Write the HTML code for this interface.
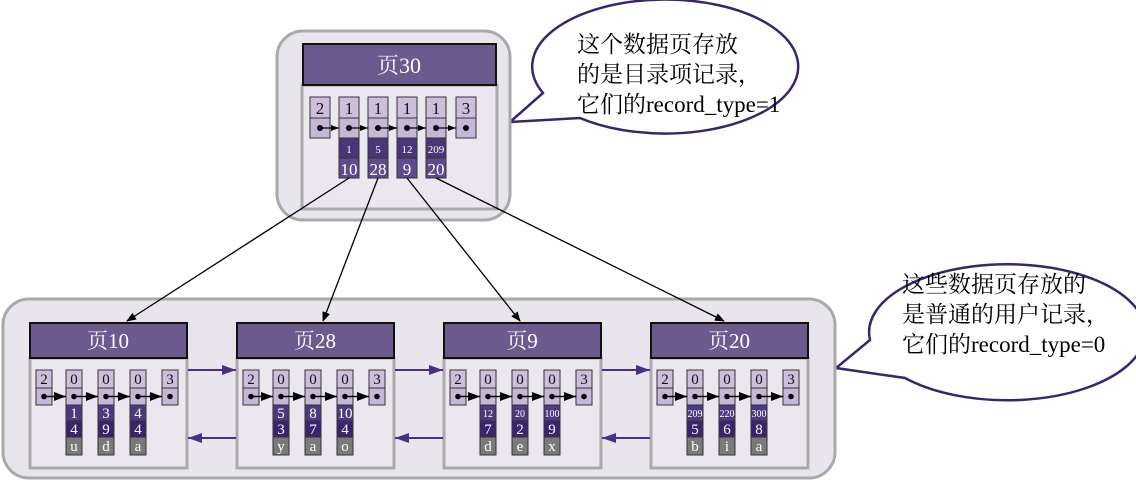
<!DOCTYPE html>
<html><head><meta charset="utf-8"><style>
html,body{margin:0;padding:0;background:#fff;}
svg{display:block;}
text{font-family:"Liberation Serif","Noto Serif CJK SC",serif;}
</style></head><body>
<svg width="1136" height="482" viewBox="0 0 1136 482" xmlns="http://www.w3.org/2000/svg">
<defs>
<marker id="ab" markerWidth="10" markerHeight="8" refX="9" refY="4" orient="auto" markerUnits="userSpaceOnUse"><path d="M0,0 L10,4 L0,8 z" fill="#000"/></marker>
<marker id="as" markerWidth="8" markerHeight="6" refX="8" refY="3" orient="auto" markerUnits="userSpaceOnUse"><path d="M0,0 L8,3 L0,6 z" fill="#000"/></marker>
<marker id="am" markerWidth="12" markerHeight="9" refX="12" refY="4.5" orient="auto" markerUnits="userSpaceOnUse"><path d="M0,0 L12,4.5 L0,9 z" fill="#000"/></marker>
<marker id="ap" markerWidth="14" markerHeight="10" refX="14" refY="5" orient="auto" markerUnits="userSpaceOnUse"><path d="M0,0 L14,5 L0,10 z" fill="#4a2f86"/></marker>
<g id="pg">
<rect x="0" y="358" width="157" height="110" fill="#ebe7ef" stroke="#aaa" stroke-width="3"/>
<rect x="0" y="323" width="157" height="35" fill="#6b5a8e" stroke="#111" stroke-width="2"/>
<g stroke="#333" stroke-width="1">
<rect x="6" y="370" width="16" height="18" fill="#cdbfdc"/><rect x="6" y="388" width="16" height="17" fill="#c5b8d6"/>
<rect x="36" y="370" width="16" height="18" fill="#cdbfdc"/><rect x="36" y="388" width="16" height="17" fill="#c5b8d6"/>
<rect x="68" y="370" width="16" height="18" fill="#cdbfdc"/><rect x="68" y="388" width="16" height="17" fill="#c5b8d6"/>
<rect x="100" y="370" width="16" height="18" fill="#cdbfdc"/><rect x="100" y="388" width="16" height="17" fill="#c5b8d6"/>
<rect x="132" y="370" width="16" height="18" fill="#cdbfdc"/><rect x="132" y="388" width="16" height="17" fill="#c5b8d6"/>
<rect x="36" y="405" width="16" height="16" fill="#4b3a80"/><rect x="36" y="421" width="16" height="16" fill="#3a246e"/><rect x="36" y="437" width="16" height="18" fill="#7a7a7a"/>
<rect x="68" y="405" width="16" height="16" fill="#4b3a80"/><rect x="68" y="421" width="16" height="16" fill="#3a246e"/><rect x="68" y="437" width="16" height="18" fill="#7a7a7a"/>
<rect x="100" y="405" width="16" height="16" fill="#4b3a80"/><rect x="100" y="421" width="16" height="16" fill="#3a246e"/><rect x="100" y="437" width="16" height="18" fill="#7a7a7a"/>
</g>
<g fill="#000"><circle cx="14" cy="396.5" r="2.8"/><circle cx="44" cy="396.5" r="2.8"/><circle cx="76" cy="396.5" r="2.8"/><circle cx="108" cy="396.5" r="2.8"/><circle cx="140" cy="396.5" r="2.8"/></g>
<g stroke="#000" stroke-width="1.5" marker-end="url(#am)">
<line x1="14" y1="396.5" x2="36" y2="396.5"/><line x1="44" y1="396.5" x2="68" y2="396.5"/><line x1="76" y1="396.5" x2="100" y2="396.5"/><line x1="108" y1="396.5" x2="132" y2="396.5"/>
</g>
</g>
</defs>

<!-- bubble 1 -->
<path d="M580,118 A133,67 0 1 0 543,93 L510,122 Z" fill="#fff" stroke="#3a2470" stroke-width="2.5"/>
<g font-size="23" fill="#000">
<text x="577" y="52">这个数据页存放</text>
<text x="577" y="82">的是目录项记录，</text>
<text x="577" y="112">它们的record_type=1</text>
</g>
<!-- bubble 2 -->
<path d="M905,378 A138,68 0 1 0 870,340 L836,368 Z" fill="#fff" stroke="#3a2470" stroke-width="2.5"/>
<g font-size="23" fill="#000">
<text x="902" y="292">这些数据页存放的</text>
<text x="902" y="322">是普通的用户记录，</text>
<text x="902" y="352">它们的record_type=0</text>
</g>

<!-- top outer box -->
<rect x="277" y="31" width="233" height="189" rx="26" fill="#e9e5ed" stroke="#a9a9a9" stroke-width="3"/>
<rect x="302" y="85" width="195" height="124" fill="#ebe7ef" stroke="#aaa" stroke-width="3"/>
<rect x="303" y="44" width="193" height="41" fill="#6b5a8e" stroke="#111" stroke-width="2"/>
<text x="399" y="73" fill="#fff" font-size="22" text-anchor="middle">页30</text>

<g stroke="#333" stroke-width="1">
<rect x="310" y="97" width="20" height="21" fill="#cdbfdc"/><rect x="310" y="118" width="20" height="20" fill="#c5b8d6"/>
<rect x="339" y="97" width="20" height="21" fill="#cdbfdc"/><rect x="339" y="118" width="20" height="20" fill="#c5b8d6"/>
<rect x="368" y="97" width="20" height="21" fill="#cdbfdc"/><rect x="368" y="118" width="20" height="20" fill="#c5b8d6"/>
<rect x="397" y="97" width="20" height="21" fill="#cdbfdc"/><rect x="397" y="118" width="20" height="20" fill="#c5b8d6"/>
<rect x="426" y="97" width="20" height="21" fill="#cdbfdc"/><rect x="426" y="118" width="20" height="20" fill="#c5b8d6"/>
<rect x="456" y="97" width="20" height="21" fill="#cdbfdc"/><rect x="456" y="118" width="20" height="20" fill="#c5b8d6"/>
<rect x="339" y="138" width="20" height="20" fill="#4a3578"/><rect x="339" y="158" width="20" height="20" fill="#5e4a8c"/>
<rect x="368" y="138" width="20" height="20" fill="#4a3578"/><rect x="368" y="158" width="20" height="20" fill="#5e4a8c"/>
<rect x="397" y="138" width="20" height="20" fill="#4a3578"/><rect x="397" y="158" width="20" height="20" fill="#5e4a8c"/>
<rect x="426" y="138" width="20" height="20" fill="#4a3578"/><rect x="426" y="158" width="20" height="20" fill="#5e4a8c"/>
</g>
<g font-size="17" text-anchor="middle" fill="#111">
<text x="320" y="114">2</text><text x="349" y="114">1</text><text x="378" y="114">1</text><text x="407" y="114">1</text><text x="436" y="114">1</text><text x="466" y="114">3</text>
</g>
<g font-size="11" text-anchor="middle" fill="#fff">
<text x="349" y="153">1</text><text x="378" y="153">5</text><text x="407" y="153">12</text><text x="436" y="153">209</text>
</g>
<g font-size="17" text-anchor="middle" fill="#fff">
<text x="349" y="175">10</text><text x="378" y="175">28</text><text x="407" y="175">9</text><text x="436" y="175">20</text>
</g>
<g fill="#000">
<circle cx="320" cy="128" r="3"/><circle cx="349" cy="128" r="3"/><circle cx="378" cy="128" r="3"/><circle cx="407" cy="128" r="3"/><circle cx="436" cy="128" r="3"/><circle cx="466" cy="128" r="3"/>
</g>
<g stroke="#000" stroke-width="1.2" marker-end="url(#as)">
<line x1="320" y1="128" x2="339" y2="128"/><line x1="349" y1="128" x2="368" y2="128"/><line x1="378" y1="128" x2="397" y2="128"/><line x1="407" y1="128" x2="426" y2="128"/><line x1="436" y1="128" x2="456" y2="128"/>
</g>

<!-- bottom outer box -->
<rect x="3" y="299" width="832" height="179" rx="26" fill="#e9e5ed" stroke="#a9a9a9" stroke-width="3"/>

<!-- pages -->
<use href="#pg" transform="translate(30,0)"/>
<use href="#pg" transform="translate(237,0)"/>
<use href="#pg" transform="translate(444,0)"/>
<use href="#pg" transform="translate(651,0)"/>

<g font-size="21" text-anchor="middle" fill="#fff">
<text x="108" y="348">页10</text><text x="315" y="348">页28</text><text x="522" y="348">页9</text><text x="729" y="348">页20</text>
</g>

<g transform="translate(30,0)" text-anchor="middle">
<g font-size="15" fill="#111"><text x="14" y="384">2</text><text x="44" y="384">0</text><text x="76" y="384">0</text><text x="108" y="384">0</text><text x="140" y="384">3</text></g>
<g font-size="15" fill="#fff"><text x="44" y="418">1</text><text x="76" y="418">3</text><text x="108" y="418">4</text>
<text x="44" y="434">4</text><text x="76" y="434">9</text><text x="108" y="434">4</text>
<text x="44" y="451">u</text><text x="76" y="451">d</text><text x="108" y="451">a</text></g>
</g>
<g transform="translate(237,0)" text-anchor="middle">
<g font-size="15" fill="#111"><text x="14" y="384">2</text><text x="44" y="384">0</text><text x="76" y="384">0</text><text x="108" y="384">0</text><text x="140" y="384">3</text></g>
<g font-size="15" fill="#fff"><text x="44" y="418">5</text><text x="76" y="418">8</text><text x="108" y="418">10</text>
<text x="44" y="434">3</text><text x="76" y="434">7</text><text x="108" y="434">4</text>
<text x="44" y="451">y</text><text x="76" y="451">a</text><text x="108" y="451">o</text></g>
</g>
<g transform="translate(444,0)" text-anchor="middle">
<g font-size="15" fill="#111"><text x="14" y="384">2</text><text x="44" y="384">0</text><text x="76" y="384">0</text><text x="108" y="384">0</text><text x="140" y="384">3</text></g>
<g font-size="10" fill="#fff"><text x="44" y="417">12</text><text x="76" y="417">20</text><text x="108" y="417">100</text></g>
<g font-size="15" fill="#fff"><text x="44" y="434">7</text><text x="76" y="434">2</text><text x="108" y="434">9</text>
<text x="44" y="451">d</text><text x="76" y="451">e</text><text x="108" y="451">x</text></g>
</g>
<g transform="translate(651,0)" text-anchor="middle">
<g font-size="15" fill="#111"><text x="14" y="384">2</text><text x="44" y="384">0</text><text x="76" y="384">0</text><text x="108" y="384">0</text><text x="140" y="384">3</text></g>
<g font-size="10" fill="#fff"><text x="44" y="417">209</text><text x="76" y="417">220</text><text x="108" y="417">300</text></g>
<g font-size="15" fill="#fff"><text x="44" y="434">5</text><text x="76" y="434">6</text><text x="108" y="434">8</text>
<text x="44" y="451">b</text><text x="76" y="451">i</text><text x="108" y="451">a</text></g>
</g>

<!-- connectors -->
<g stroke="#000" stroke-width="1.3" marker-end="url(#ab)">
<line x1="349" y1="178" x2="127" y2="321"/>
<line x1="378" y1="178" x2="323" y2="321"/>
<line x1="407" y1="178" x2="520" y2="321"/>
<line x1="436" y1="178" x2="724" y2="321"/>
</g>

<!-- page horizontal arrows -->
<g stroke="#4a2f86" stroke-width="2" marker-end="url(#ap)">
<line x1="188" y1="370" x2="236" y2="370"/><line x1="236" y1="438" x2="188" y2="438"/>
<line x1="395" y1="370" x2="443" y2="370"/><line x1="443" y1="438" x2="395" y2="438"/>
<line x1="602" y1="370" x2="650" y2="370"/><line x1="650" y1="438" x2="602" y2="438"/>
</g>
</svg>
</body></html>
